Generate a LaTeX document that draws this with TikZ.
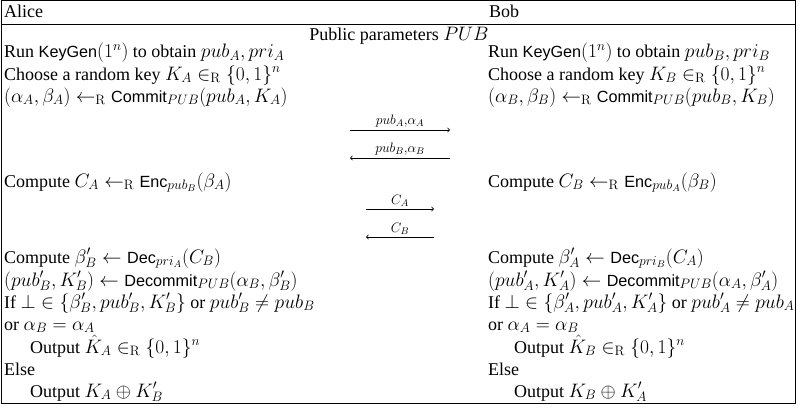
\RequirePackage{fix-cm}
\documentclass[tikz,border=0pt]{standalone}
\usepackage[no-math]{fontspec}
\setmainfont{Liberation Serif}
\setsansfont[Scale=0.9]{Liberation Sans}
\DeclareMathSizes{18}{19.5}{13.65}{9.75}
\newcommand{\sfn}[1]{\textsf{#1}}
\newcommand{\inR}{\in_{\mathrm{R}}}
\newcommand{\laR}{\leftarrow_{\mathrm{R}}}
\tikzset{
  txt/.style={anchor=base west, inner sep=0pt, text height=12pt, text depth=4pt, font=\fontsize{18}{22}\selectfont},
  msg/.style={-to, line width=0.8pt},
  lbl/.style={above, inner sep=2pt, font=\fontsize{18}{22}\selectfont}
}
\begin{document}
\begin{tikzpicture}[x=1pt,y=-1pt]
\useasboundingbox (0,0) rectangle (802,412);
\draw[line width=1pt] (1,1) rectangle (795,403);
\draw[line width=0.8pt] (1,24) -- (795,24);
% header
\node[txt] (ha) at (4,18) {Alice};
\node[txt] (hb) at (489,18) {Bob};
\node[txt, anchor=base] (pp) at (399,41) {Public parameters $PUB$};
% Alice top
\node[txt] (a1) at (4,58) {Run \sfn{KeyGen}$(1^n)$ to obtain $pub_A, pri_A$};
\node[txt] (a2) at (4,80) {Choose a random key $K_A \inR \{0,1\}^n$};
\node[txt] (a3) at (4,102) {$(\alpha_A,\beta_A) \laR \mbox{\sfn{Commit}}_{PUB}(pub_A, K_A)$};
% Bob top
\node[txt] (b1) at (488,58) {Run \sfn{KeyGen}$(1^n)$ to obtain $pub_B, pri_B$};
\node[txt] (b2) at (488,80) {Choose a random key $K_B \inR \{0,1\}^n$};
\node[txt] (b3) at (488,102) {$(\alpha_B,\beta_B) \laR \mbox{\sfn{Commit}}_{PUB}(pub_B, K_B)$};
% messages 1
\coordinate (m1s) at (350,130); \coordinate (m1e) at (450,130);
\coordinate (m2s) at (450,158); \coordinate (m2e) at (350,158);
\draw[msg] (m1s) -- node[lbl]{$\scriptstyle pub_A,\alpha_A$} (m1e);
\draw[msg] (m2s) -- node[lbl]{$\scriptstyle pub_B,\alpha_B$} (m2e);
% compute C
\node[txt] (a4) at (4,187) {Compute $C_A \laR \mbox{\sfn{Enc}}_{pub_B}(\beta_A)$};
\node[txt] (b4) at (488,187) {Compute $C_B \laR \mbox{\sfn{Enc}}_{pub_A}(\beta_B)$};
% messages 2
\coordinate (m3s) at (366,209); \coordinate (m3e) at (434,209);
\coordinate (m4s) at (434,237); \coordinate (m4e) at (366,237);
\draw[msg] (m3s) -- node[lbl]{$\scriptstyle C_A$} (m3e);
\draw[msg] (m4s) -- node[lbl]{$\scriptstyle C_B$} (m4e);
% Alice bottom
\node[txt] (a5) at (4,263) {Compute $\beta'_B \leftarrow \mbox{\sfn{Dec}}_{pri_A}(C_B)$};
\node[txt] (a6) at (4,286) {$(pub'_B, K'_B) \leftarrow \mbox{\sfn{Decommit}}_{PUB}(\alpha_B,\beta'_B)$};
\node[txt] (a7) at (4,308) {If $\bot \in \{\beta'_B, pub'_B, K'_B\}$ or $pub'_B \neq pub_B$};
\node[txt] (a8) at (4,330) {or $\alpha_B = \alpha_A$};
\node[txt] (a9) at (30,353) {Output $\hat{K}_A \inR \{0,1\}^n$};
\node[txt] (a10) at (4,375) {Else};
\node[txt] (a11) at (30,397) {Output $K_A \oplus K'_B$};
% Bob bottom
\node[txt] (b5) at (488,263) {Compute $\beta'_A \leftarrow \mbox{\sfn{Dec}}_{pri_B}(C_A)$};
\node[txt] (b6) at (488,286) {$(pub'_A, K'_A) \leftarrow \mbox{\sfn{Decommit}}_{PUB}(\alpha_A,\beta'_A)$};
\node[txt] (b7) at (488,308) {If $\bot \in \{\beta'_A, pub'_A, K'_A\}$ or $pub'_A \neq pub_A$};
\node[txt] (b8) at (488,330) {or $\alpha_A = \alpha_B$};
\node[txt] (b9) at (514,353) {Output $\hat{K}_B \inR \{0,1\}^n$};
\node[txt] (b10) at (488,375) {Else};
\node[txt] (b11) at (514,397) {Output $K_B \oplus K'_A$};
\end{tikzpicture}
\end{document}
